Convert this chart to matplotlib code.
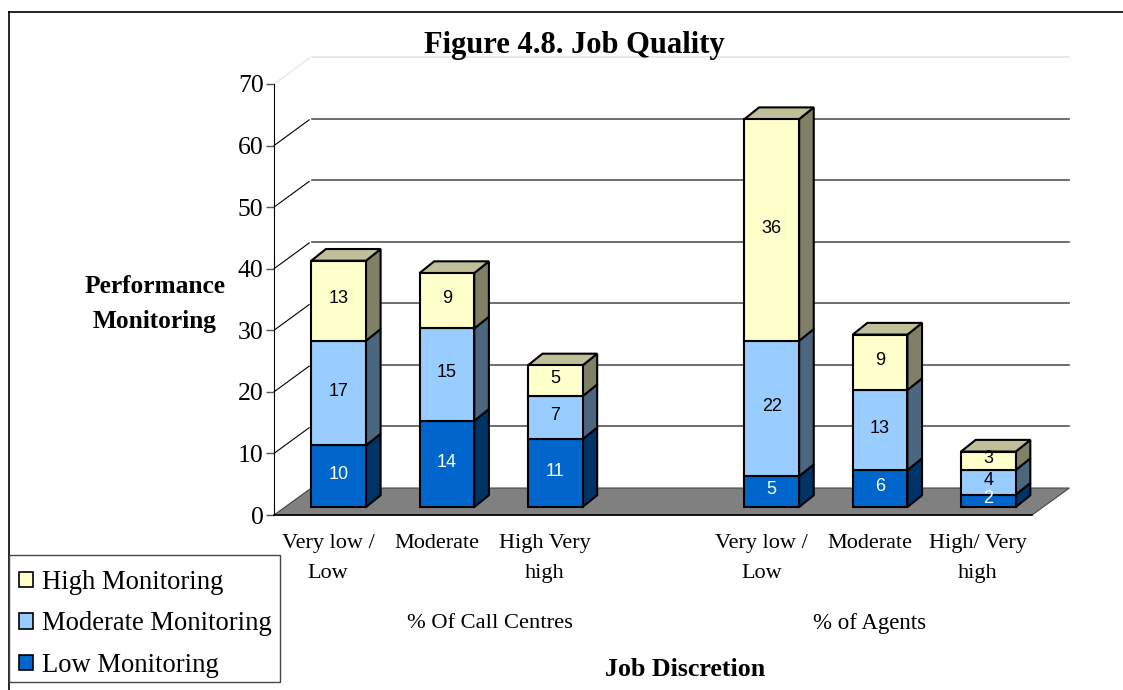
import matplotlib
matplotlib.use("Agg")
import matplotlib.pyplot as plt
from matplotlib.lines import Line2D
from matplotlib.patches import Patch, Rectangle

plt.rcParams["font.family"] = ["Liberation Serif", "DejaVu Serif"]

W, H = 1123, 690

categories = ["Very low /\nLow", "Moderate", "High Very\nhigh", "", "Very low /\nLow", "Moderate", "High/ Very\nhigh"]
low = [10, 14, 11, None, 5, 6, 2]
moderate = [17, 15, 7, None, 22, 13, 4]
high = [13, 9, 5, None, 36, 9, 3]
y_ticks = [0, 10, 20, 30, 40, 50, 60, 70]
series_names = ["High Monitoring", "Moderate Monitoring", "Low Monitoring"]

# front, side, label colours for each stack level
styles = [("#0066CC", "#003366", "white"),
          ("#99CCFF", "#4D6680", "black"),
          ("#FFFFCC", "#808066", "black")]
top_color = "#BFBF99"

# fake 3d offsets, in data units
wall_dx, wall_dy = 0.345, 4.38
bar_dx, bar_dy = 0.135, 1.9
bar_shift, bar_base = 0.097, 1.3
bar_width = 0.505

fig = plt.figure(figsize=(W / 100, H / 100), dpi=100)
ax = fig.add_axes([274 / W, 1 - 515 / H, 758 / W, 431 / H])
ax.set_xlim(0, 7)
ax.set_ylim(0, 70)
ax.patch.set_visible(False)
for s in ["top", "right", "bottom"]:
    ax.spines[s].set_visible(False)

# back wall
for v in y_ticks[1:]:
    c = "#E4E4E4" if v == 70 else "#555555"
    slant = "#E4E4E4" if v == 70 else "black"
    ax.plot([wall_dx + 0.01, 7 + wall_dx], [v + wall_dy] * 2, color=c, lw=1.2, clip_on=False, zorder=1)
    ax.plot([0, wall_dx - 0.02], [v, v + wall_dy - 0.2], color=slant, lw=0.8, clip_on=False, zorder=1)

# floor
ax.fill([0, 7, 7 + wall_dx, wall_dx], [0, 0, wall_dy, wall_dy], facecolor="#808080",
        edgecolor="#444444", lw=0.8, clip_on=False, zorder=2)
ax.plot([0, 7], [0, 0], color="black", lw=1.2, clip_on=False, zorder=3)

# stacked bars
for i in range(len(categories)):
    if low[i] is None:
        continue
    x = i + 0.5 + bar_shift
    left, right = x - bar_width / 2, x + bar_width / 2
    bottom = bar_base
    for vals, (front, side, txt) in zip([low, moderate, high], styles):
        v = vals[i]
        ax.bar(x, v, bar_width, bottom=bottom, color=front, edgecolor="black", lw=1.5,
               clip_on=False, zorder=5)
        ax.fill([right, right + bar_dx, right + bar_dx, right],
                [bottom, bottom + bar_dy, bottom + v + bar_dy, bottom + v],
                facecolor=side, edgecolor="black", lw=1.5, clip_on=False, zorder=4)
        ax.text(x, bottom + v / 2 + 0.3, str(v), color=txt, ha="center", va="center",
                fontsize=13, family="Liberation Sans", zorder=6)
        bottom += v
    ax.fill([left, right, right + bar_dx, left + bar_dx],
            [bottom, bottom, bottom + bar_dy, bottom + bar_dy],
            facecolor=top_color, edgecolor="black", lw=1.5, clip_on=False, zorder=4)

ax.set_yticks(y_ticks)
ax.tick_params(axis="y", length=6, width=1, color="#555555", labelsize=18.5, pad=1.5)
ax.set_xticks([i + 0.5 for i in range(len(categories))])
ax.set_xticklabels(categories, fontsize=16, linespacing=1.75)
ax.tick_params(axis="x", length=0, pad=14)

# axis and group titles
fig.text(574 / W, 1 - 46 / H, "Figure 4.8. Job Quality", fontsize=22, fontweight="bold", ha="center", va="center")
fig.text(155 / W, 1 - 304 / H, "Performance\nMonitoring", fontsize=18.3, fontweight="bold", ha="center",
         va="center", linespacing=1.65)
fig.text(490 / W, 1 - 623 / H, "% Of Call Centres", fontsize=16.2, ha="center", va="center")
fig.text(870 / W, 1 - 623 / H, "% of Agents", fontsize=16.5, ha="center", va="center")
fig.text(685 / W, 1 - 670 / H, "Job Discretion", fontsize=18.7, fontweight="bold", ha="center", va="center")

# outer frame of the original picture
fig.add_artist(Line2D([9 / W, 1], [1 - 12 / H, 1 - 12 / H], color="black", lw=1.2))
fig.add_artist(Line2D([9 / W, 9 / W], [0, 1 - 12 / H], color="black", lw=1.2))

# legend box is separate, the text sits low in it
fig.add_artist(Rectangle((9 / W, 1 - 682 / H), 271 / W, 127 / H, transform=fig.transFigure,
                         facecolor="white", edgecolor="#444444", lw=1, zorder=2))
handles = [Patch(facecolor=styles[2][0], edgecolor="black", lw=1.2),
           Patch(facecolor=styles[1][0], edgecolor="black", lw=1.2),
           Patch(facecolor=styles[0][0], edgecolor="black", lw=1.2)]
leg = fig.legend(handles, series_names, loc="lower left", bbox_to_anchor=(9 / W, 1 - 688 / H),
                 fontsize=19.2, frameon=False,
                 handlelength=0.52, handleheight=0.52, handletextpad=0.33, labelspacing=0.625,
                 borderaxespad=0, borderpad=0.37)
leg.set_zorder(3)

fig.savefig("out.png", dpi=100)
